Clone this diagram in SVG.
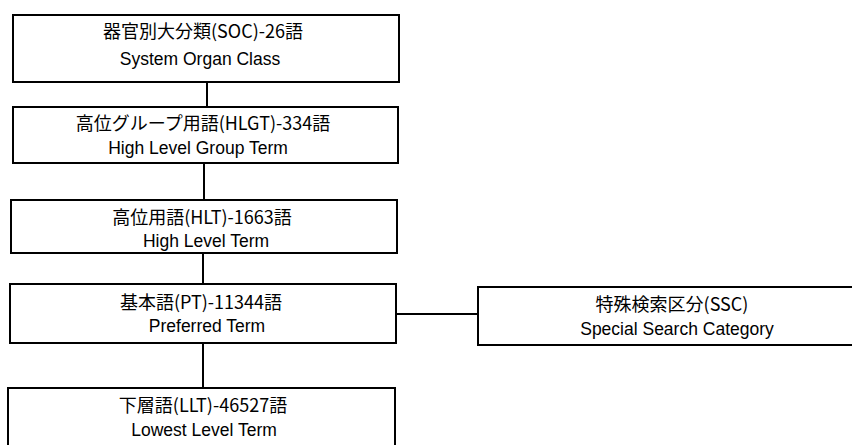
<svg xmlns="http://www.w3.org/2000/svg" width="852" height="445" viewBox="0 0 852 445">
<style>
.box{fill:#fff;stroke:#000;stroke-width:2}
.ln{stroke:#000;stroke-width:2;fill:none}
.jp{font-family:"Noto Sans CJK JP","Liberation Sans",sans-serif;font-size:18px;fill:#000;text-anchor:middle}
.en{font-family:"Liberation Sans",sans-serif;font-size:17.5px;fill:#000;text-anchor:middle}
</style>
<rect width="852" height="445" fill="#fff"/>
<g id="connectors">
<line class="ln" x1="207" y1="82" x2="207" y2="107"/>
<line class="ln" x1="204" y1="163" x2="204" y2="200"/>
<line class="ln" x1="203" y1="253" x2="203" y2="284"/>
<line class="ln" x1="203" y1="343" x2="203" y2="388"/>
<line class="ln" x1="396" y1="314" x2="478" y2="314"/>
</g>
<g id="soc">
<rect class="box" x="13" y="15" width="386" height="67"/>
<text class="jp" x="203" y="38">器官別大分類(SOC)-26語</text>
<text class="en" x="200" y="65">System Organ Class</text>
</g>
<g id="hlgt">
<rect class="box" x="13" y="107" width="385" height="56"/>
<text class="jp" x="203" y="130">高位グループ用語(HLGT)-334語</text>
<text class="en" x="198" y="154">High Level Group Term</text>
</g>
<g id="hlt">
<rect class="box" x="11" y="200" width="386" height="53"/>
<text class="jp" x="202" y="224">高位用語(HLT)-1663語</text>
<text class="en" x="206" y="247">High Level Term</text>
</g>
<g id="pt">
<rect class="box" x="10" y="284" width="386" height="59"/>
<text class="jp" x="201" y="309">基本語(PT)-11344語</text>
<text class="en" x="207" y="332">Preferred Term</text>
</g>
<g id="llt">
<rect class="box" x="8" y="388" width="387" height="70"/>
<text class="jp" x="203" y="412">下層語(LLT)-46527語</text>
<text class="en" x="204" y="436">Lowest Level Term</text>
</g>
<g id="ssc">
<rect class="box" x="478" y="287" width="390" height="58"/>
<text class="jp" x="672" y="311">特殊検索区分(SSC)</text>
<text class="en" x="677" y="335">Special Search Category</text>
</g>
</svg>
